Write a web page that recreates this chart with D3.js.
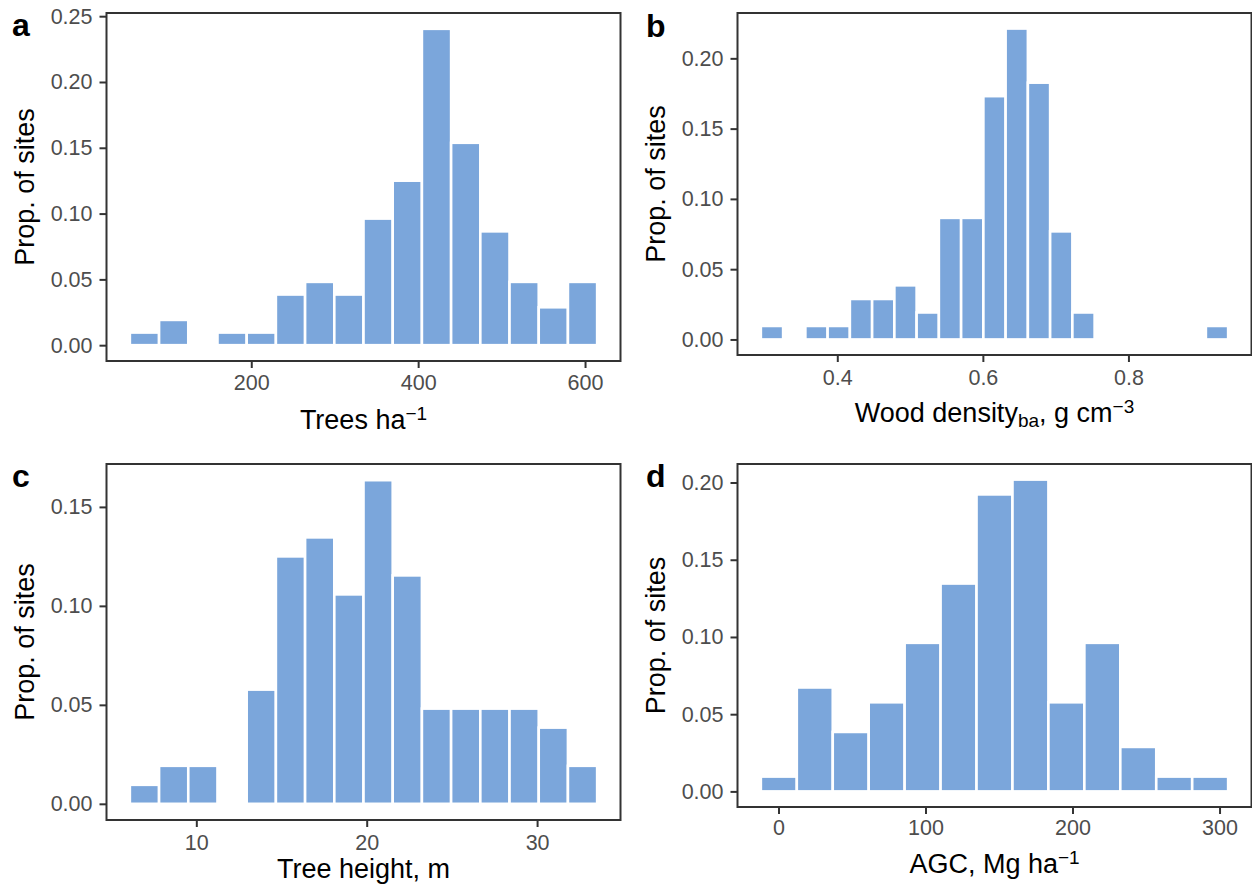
<!DOCTYPE html>
<html>
<head>
<meta charset="utf-8">
<script src="https://cdn.jsdelivr.net/npm/d3@7"></script>
<style>
  html, body { margin: 0; padding: 0; background: #fff; }
  svg { display: block; }
  text { font-family: "Liberation Sans", Arial, Helvetica, sans-serif; }
</style>
</head>
<body>
<svg id="chart" width="1252" height="888"></svg>
<script>
// ---------- DATA (proportion of sites per histogram bin) ----------
// a: Trees per hectare
const treesBinStart = 54.5;
const treesBinWidth = 35;
const treesProp = [0.0096, 0.0192, 0, 0.0096, 0.0096, 0.0385, 0.0481, 0.0385,
                   0.0962, 0.125, 0.2404, 0.1538, 0.0865, 0.0481, 0.0288, 0.0481];
const treesXTicks = [200, 400, 600];
const treesYTicks = [0, 0.05, 0.10, 0.15, 0.20, 0.25];

// b: Wood density (basal-area weighted)
const woodBinStart = 0.295;
const woodBinWidth = 0.03057;
const woodProp = [0.0096, 0, 0.0096, 0.0096, 0.0288, 0.0288, 0.0385, 0.0192,
                  0.0865, 0.0865, 0.1731, 0.2212, 0.1827, 0.0769, 0.0192,
                  0, 0, 0, 0, 0, 0.0096];
const woodXTicks = [0.4, 0.6, 0.8];
const woodYTicks = [0, 0.05, 0.10, 0.15, 0.20];

// c: Tree height
const heightBinStart = 6.1;
const heightBinWidth = 1.714;
const heightProp = [0.0096, 0.0192, 0.0192, 0, 0.0577, 0.125, 0.1346, 0.1058,
                    0.1635, 0.1154, 0.0481, 0.0481, 0.0481, 0.0481, 0.0385, 0.0192];
const heightXTicks = [10, 20, 30];
const heightYTicks = [0, 0.05, 0.10, 0.15];

// d: Above-ground carbon
const agcBinStart = -12;
const agcBinWidth = 24.45;
const agcProp = [0.0096, 0.0673, 0.0385, 0.0577, 0.0962, 0.1346, 0.1923, 0.2019,
                 0.0577, 0.0962, 0.0288, 0.0096, 0.0096];
const agcXTicks = [0, 100, 200, 300];
const agcYTicks = [0, 0.05, 0.10, 0.15, 0.20];

const yAxisTitle = "Prop. of sites";

// ---------- LAYOUT ----------
const panels = [
  { letter: "a", props: treesProp, start: treesBinStart, width: treesBinWidth,
    xTicks: treesXTicks, yTicks: treesYTicks,
    box: { l: 106.5, r: 620.5, t: 13, b: 361 },
    letterPos: [12, 36], tickLabelY: 390, titleY: 429, yTitleX: 34,
    title: [{ t: "Trees ha" }, { t: "\u22121", sup: true }] },
  { letter: "b", props: woodProp, start: woodBinStart, width: woodBinWidth,
    xTicks: woodXTicks, yTicks: woodYTicks,
    box: { l: 737.5, r: 1251.5, t: 13, b: 355 },
    letterPos: [646, 37], tickLabelY: 385, titleY: 422, yTitleX: 665,
    title: [{ t: "Wood density" }, { t: "ba", sub: true }, { t: ", g cm" }, { t: "\u22123", sup: true }] },
  { letter: "c", props: heightProp, start: heightBinStart, width: heightBinWidth,
    xTicks: heightXTicks, yTicks: heightYTicks,
    box: { l: 106.5, r: 620.5, t: 464, b: 820 },
    letterPos: [12, 487], tickLabelY: 850, titleY: 878, yTitleX: 34,
    title: [{ t: "Tree height, m" }] },
  { letter: "d", props: agcProp, start: agcBinStart, width: agcBinWidth,
    xTicks: agcXTicks, yTicks: agcYTicks,
    box: { l: 737.5, r: 1251.5, t: 464, b: 807 },
    letterPos: [646, 487], tickLabelY: 835, titleY: 873, yTitleX: 665,
    title: [{ t: "AGC, Mg ha" }, { t: "\u22121", sup: true }] }
];

const BAR_FILL = "#7ba6db";
const AXIS_COL = "#333333";
const TICK_TXT = "#4d4d4d";
const TICK_FS = 21.5;
const TITLE_FS = 27;
const SMALL_FS = 19;

const svg = d3.select("#chart");

panels.forEach(p => {
  const bins = p.props.map((v, i) => ({
    x0: p.start + i * p.width,
    x1: p.start + (i + 1) * p.width,
    v: v
  }));
  const lo = bins[0].x0, hi = bins[bins.length - 1].x1;
  const padX = (hi - lo) * 0.05;
  const maxV = d3.max(p.props);

  const x = d3.scaleLinear().domain([lo - padX, hi + padX]).range([p.box.l, p.box.r]);
  const y = d3.scaleLinear().domain([-0.05 * maxV, 1.05 * maxV]).range([p.box.b, p.box.t]);

  const g = svg.append("g");

  // bars
  g.selectAll("rect.bar")
    .data(bins.filter(d => d.v > 0))
    .join("rect")
    .attr("class", "bar")
    .attr("x", d => x(d.x0))
    .attr("width", d => x(d.x1) - x(d.x0))
    .attr("y", d => y(d.v))
    .attr("height", d => y(0) - y(d.v))
    .attr("fill", BAR_FILL)
    .attr("stroke", "#ffffff")
    .attr("stroke-width", 2.6);

  // panel border
  g.append("rect")
    .attr("x", p.box.l).attr("y", p.box.t)
    .attr("width", p.box.r - p.box.l).attr("height", p.box.b - p.box.t)
    .attr("fill", "none").attr("stroke", AXIS_COL).attr("stroke-width", 2);

  // y axis
  const yAxis = d3.axisLeft(y).tickValues(p.yTicks).tickFormat(d3.format(".2f"))
    .tickSize(7).tickPadding(7);
  const ya = g.append("g").attr("transform", `translate(${p.box.l},0)`).call(yAxis);
  ya.select(".domain").remove();
  ya.selectAll(".tick line").attr("stroke", AXIS_COL).attr("stroke-width", 2);
  ya.selectAll(".tick text").attr("fill", TICK_TXT)
    .style("font-size", TICK_FS + "px")
    .style("font-family", '"Liberation Sans", Arial, Helvetica, sans-serif');

  // x axis
  const xAxis = d3.axisBottom(x).tickValues(p.xTicks).tickFormat(d3.format("")).tickSize(7).tickPadding(0);
  const xa = g.append("g").attr("transform", `translate(0,${p.box.b})`).call(xAxis);
  xa.select(".domain").remove();
  xa.selectAll(".tick line").attr("stroke", AXIS_COL).attr("stroke-width", 2);
  xa.selectAll(".tick text").attr("fill", TICK_TXT)
    .attr("y", p.tickLabelY - p.box.b).attr("dy", null)
    .style("font-size", TICK_FS + "px")
    .style("font-family", '"Liberation Sans", Arial, Helvetica, sans-serif');

  // x title
  const cx = (p.box.l + p.box.r) / 2;
  const tt = g.append("text")
    .attr("x", cx).attr("y", p.titleY)
    .attr("text-anchor", "middle")
    .attr("fill", "#000")
    .style("font-size", TITLE_FS + "px");
  let shift = 0;
  p.title.forEach(part => {
    const target = part.sup ? -9 : (part.sub ? 5 : 0);
    tt.append("tspan")
      .attr("dy", target - shift)
      .style("font-size", (part.sup || part.sub ? SMALL_FS : TITLE_FS) + "px")
      .text(part.t);
    shift = target;
  });

  // y title
  const cy = (p.box.t + p.box.b) / 2;
  g.append("text")
    .attr("transform", `translate(${p.yTitleX},${cy}) rotate(-90)`)
    .attr("text-anchor", "middle")
    .attr("fill", "#000")
    .style("font-size", TITLE_FS + "px")
    .text(yAxisTitle);

  // panel letter
  g.append("text")
    .attr("x", p.letterPos[0]).attr("y", p.letterPos[1])
    .attr("fill", "#000")
    .style("font-size", "32px")
    .style("font-weight", "bold")
    .text(p.letter);
});
</script>
</body>
</html>
